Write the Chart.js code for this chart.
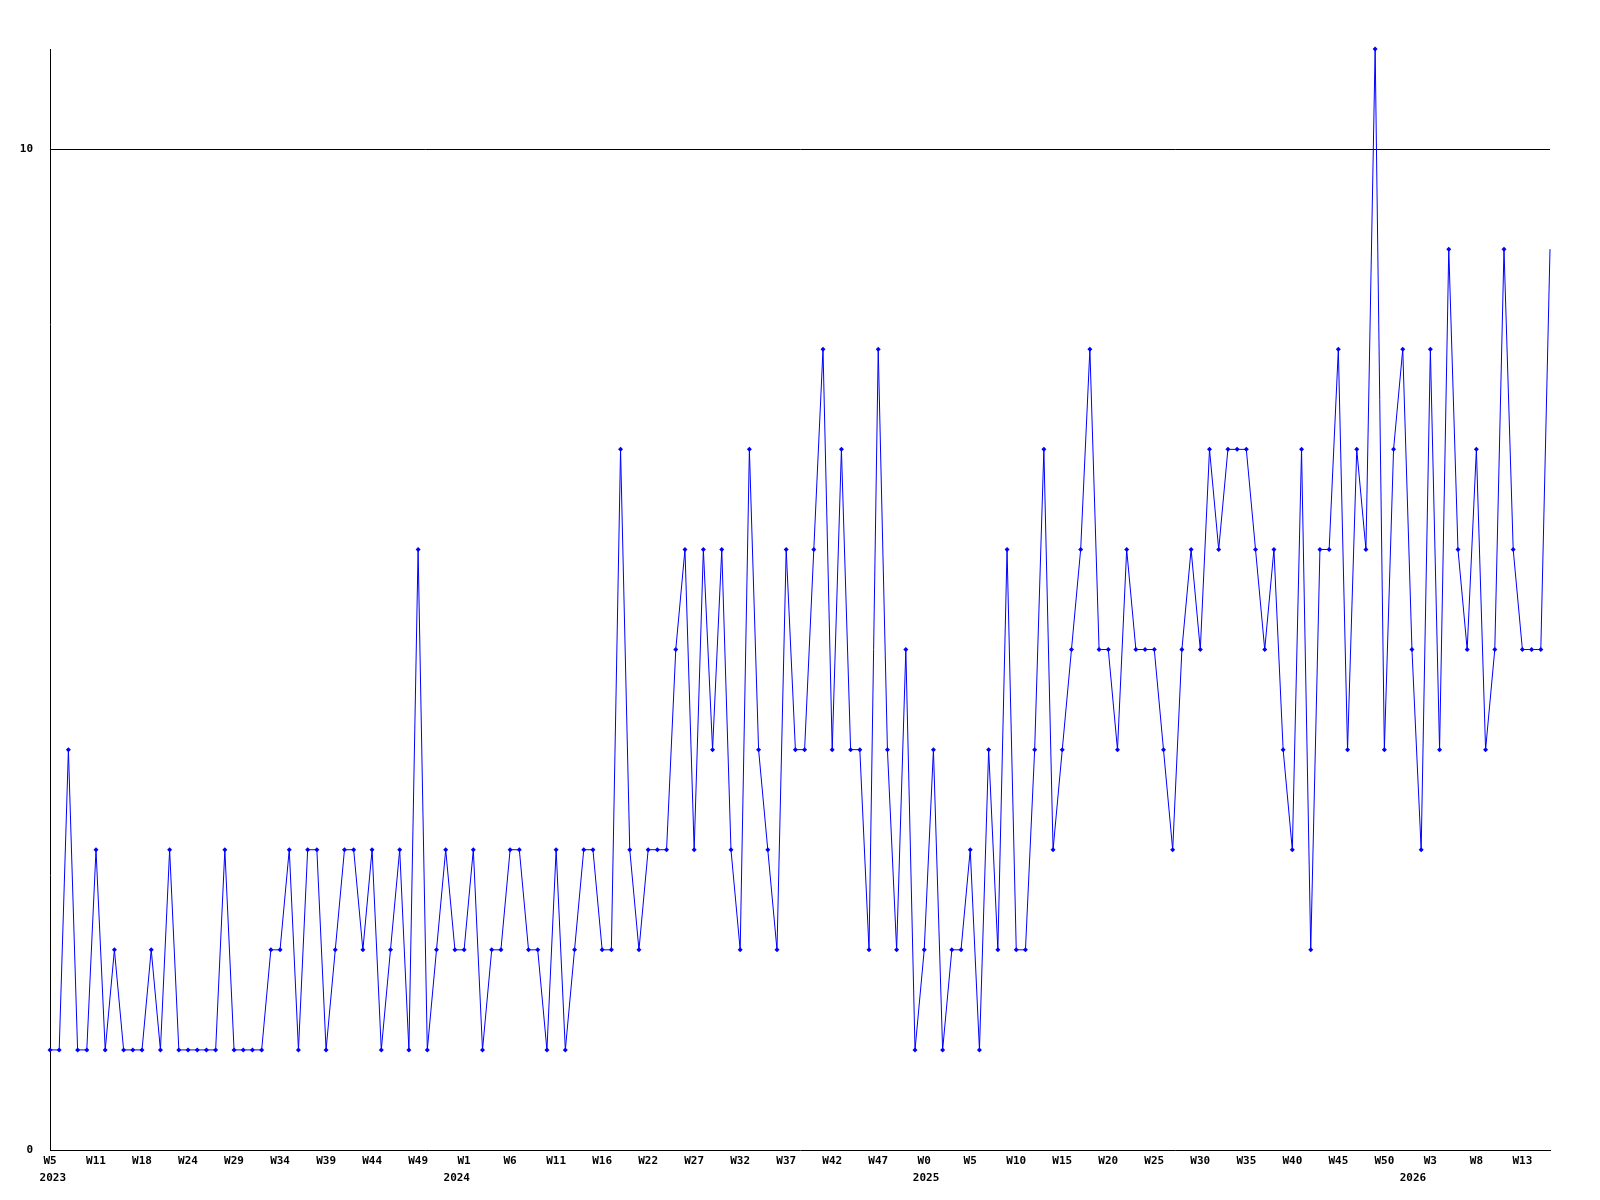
<!DOCTYPE html>
<html>
<head>
<meta charset="utf-8">
<script src="https://cdn.jsdelivr.net/npm/chart.js@4/dist/chart.umd.min.js"></script>
<style>
  html, body { margin: 0; padding: 0; background: #fff; }
  #wrap { width: 1600px; height: 1200px; }
</style>
</head>
<body>
<div id="wrap"><canvas id="weekly" width="1600" height="1200"></canvas></div>
<script>
// weekly counts, one point per week
const counts = [
    1, 1, 4, 1, 1, 3, 1, 2, 1, 1, 1, 2, 1, 3, 1,
    1, 1, 1, 1, 3, 1, 1, 1, 1, 2, 2, 3, 1, 3, 3,
    1, 2, 3, 3, 2, 3, 1, 2, 3, 1, 6, 1, 2, 3, 2, 2,
    3, 1, 2, 2, 3, 3, 2, 2, 1, 3, 1, 2, 3, 3, 2,
    2, 7, 3, 2, 3, 3, 3, 5, 6, 3, 6, 4, 6, 3, 2,
    7, 4, 3, 2, 6, 4, 4, 6, 8, 4, 7, 4, 4, 2, 8,
    4, 2, 5, 1, 2, 4, 1, 2, 2, 3, 1, 4, 2, 6, 2, 2,
    4, 7, 3, 4, 5, 6, 8, 5, 5, 4, 6, 5, 5, 5, 4,
    3, 5, 6, 5, 7, 6, 7, 7, 7, 6, 5, 6, 4, 3, 7,
    2, 6, 6, 8, 4, 7, 6, 11, 4, 7, 8, 5, 3, 8, 4,
    9, 6, 5, 7, 4, 5, 9, 6, 5, 5, 5, 9
];

// week label shown under every 5th point
const weekTicks = ['W5', 'W11', 'W18', 'W24', 'W29', 'W34', 'W39', 'W44', 'W49',
    'W1', 'W6', 'W11', 'W16', 'W22', 'W27', 'W32', 'W37', 'W42', 'W47',
    'W0', 'W5', 'W10', 'W15', 'W20', 'W25', 'W30', 'W35', 'W40', 'W45', 'W50',
    'W3', 'W8', 'W13'];
const tickStep = 5;

// year captions and the week index where each year starts
const yearLabels = ['2023', '2024', '2025', '2026'];
const yearStart = [0.3, 44.2, 95.2, 148.1];

const yTicks = [0, 10];

const labels = counts.map(function(v, i) {
    return i % tickStep === 0 ? weekTicks[i / tickStep] : '';
});

const axisFont = { family: "'DejaVu Sans Mono', 'Liberation Mono', monospace", size: 11, weight: 'bold' };

// second row of x labels (years)
const yearRow = {
    id: 'yearRow',
    afterDraw(chart) {
        const x = chart.scales.x;
        const ctx = chart.ctx;
        ctx.save();
        ctx.fillStyle = '#000';
        ctx.font = 'bold 11px ' + axisFont.family;
        ctx.textAlign = 'center';
        ctx.textBaseline = 'middle';
        yearLabels.forEach(function(txt, i) {
            ctx.fillText(txt, x.getPixelForValue(yearStart[i]), x.top + 28);
        });
        ctx.restore();
    }
};

const whiteBg = {
    id: 'whiteBg',
    beforeDraw(chart) {
        const ctx = chart.ctx;
        ctx.save();
        ctx.fillStyle = '#fff';
        ctx.fillRect(0, 0, chart.width, chart.height);
        ctx.restore();
    }
};

new Chart(document.getElementById('weekly'), {
    type: 'line',
    data: {
        labels: labels,
        datasets: [{
            data: counts,
            borderColor: '#0000ff',
            borderWidth: 1,
            tension: 0,
            fill: false,
            pointStyle: 'rectRot',
            // the last (current) week has no marker in the original
            pointRadius: function(c) { return c.dataIndex === counts.length - 1 ? 0 : 2.5; },
            pointBorderWidth: 0,
            pointBackgroundColor: '#0000ff',
            clip: false
        }]
    },
    options: {
        responsive: false,
        animation: false,
        layout: { padding: { top: 49, right: 50, left: 0, bottom: 0 } },
        plugins: {
            legend: { display: false },
            tooltip: { enabled: false }
        },
        scales: {
            x: {
                offset: false,
                grid: { display: false, drawTicks: false },
                border: { display: true, color: '#000', width: 1 },
                ticks: {
                    autoSkip: false,
                    maxRotation: 0,
                    padding: 5,
                    color: '#000',
                    font: axisFont
                },
                afterFit(scale) { scale.height = 50; }
            },
            y: {
                min: 0,
                max: 11,
                afterBuildTicks(scale) {
                    scale.ticks = yTicks.map(function(v) { return { value: v }; });
                },
                grid: {
                    drawTicks: false,
                    color: function(c) { return c.tick && c.tick.value === 10 ? '#000' : 'rgba(0,0,0,0)'; },
                    lineWidth: 1
                },
                border: { display: true, color: '#000', width: 1 },
                ticks: {
                    padding: 17,
                    color: '#000',
                    font: axisFont
                },
                afterFit(scale) { scale.width = 50; }
            }
        }
    },
    plugins: [whiteBg, yearRow]
});
</script>
</body>
</html>
